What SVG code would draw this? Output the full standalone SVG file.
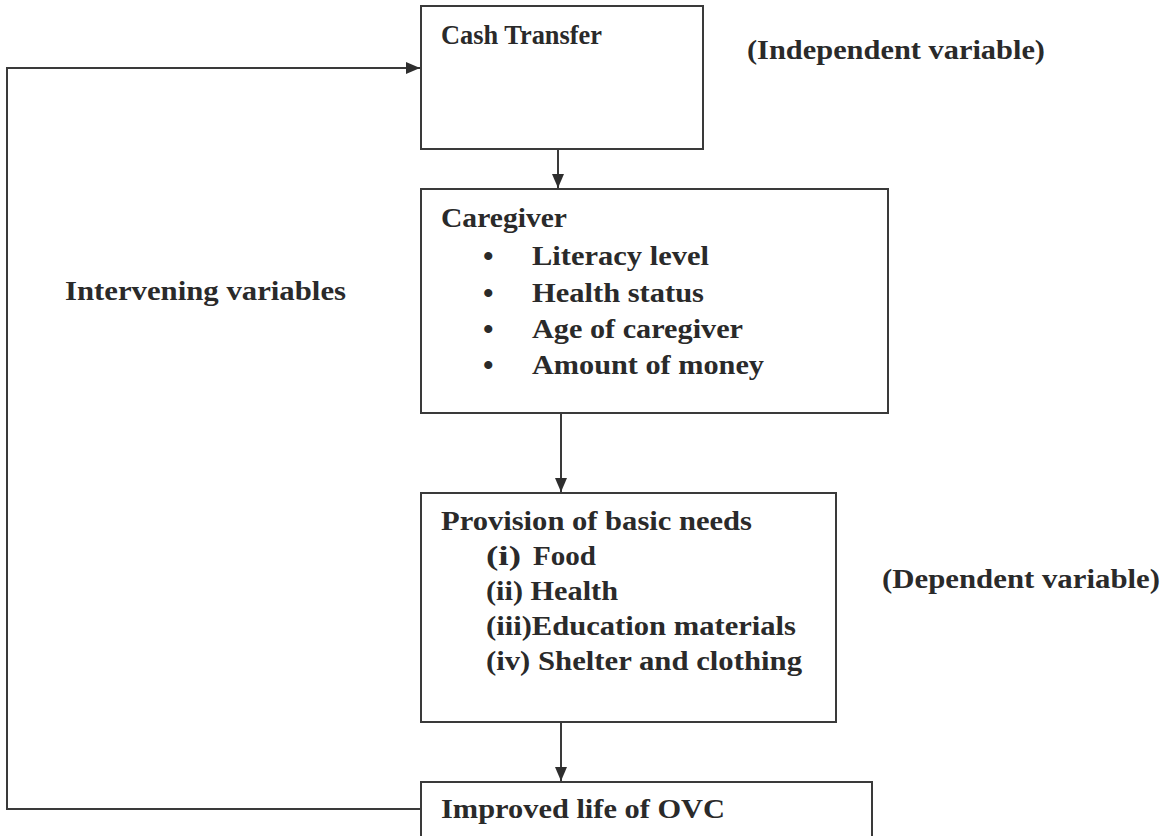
<svg xmlns="http://www.w3.org/2000/svg" width="1171" height="836" viewBox="0 0 1171 836">
<style>
.box{fill:#fff;stroke:#3a3a3a;stroke-width:2}
.ln{fill:none;stroke:#3a3a3a;stroke-width:2}
.t{font-family:"Liberation Serif","Times New Roman",serif;font-weight:bold;font-size:28px;fill:#2a2a2a}
.b{font-family:"Liberation Serif","Times New Roman",serif;font-weight:bold;font-size:30px;fill:#2a2a2a}
</style>
<defs>
<marker id="ah" markerUnits="userSpaceOnUse" markerWidth="14" markerHeight="14" refX="14" refY="7" orient="auto">
<path d="M0,1 L14,7 L0,13 Z" fill="#2e2e2e"/>
</marker>
</defs>
<rect width="1171" height="836" fill="#fff"/>
<g id="connectors">
<line class="ln" x1="558" y1="149" x2="558" y2="188" marker-end="url(#ah)"/>
<line class="ln" x1="561" y1="413" x2="561" y2="492" marker-end="url(#ah)"/>
<line class="ln" x1="561" y1="722" x2="561" y2="781" marker-end="url(#ah)"/>
<polyline class="ln" points="421,809 7,809 7,68 420,68" marker-end="url(#ah)"/>
</g>
<g id="cash-transfer">
<rect class="box" x="421" y="6" width="282" height="143"/>
<text class="t" x="441" y="44" textLength="161" lengthAdjust="spacingAndGlyphs">Cash Transfer</text>
</g>
<g id="independent-label">
<text class="t" x="747" y="59" textLength="298" lengthAdjust="spacingAndGlyphs">(Independent variable)</text>
</g>
<g id="caregiver">
<rect class="box" x="421" y="189" width="467" height="224"/>
<text class="t" x="441" y="227" textLength="126" lengthAdjust="spacingAndGlyphs">Caregiver</text>
<text class="b" x="483" y="266">•</text>
<text class="t" x="532" y="265" textLength="177" lengthAdjust="spacingAndGlyphs">Literacy level</text>
<text class="b" x="483" y="303">•</text>
<text class="t" x="532" y="302" textLength="172" lengthAdjust="spacingAndGlyphs">Health status</text>
<text class="b" x="483" y="339">•</text>
<text class="t" x="532" y="338" textLength="211" lengthAdjust="spacingAndGlyphs">Age of caregiver</text>
<text class="b" x="483" y="375">•</text>
<text class="t" x="532" y="374" textLength="232" lengthAdjust="spacingAndGlyphs">Amount of money</text>
</g>
<g id="intervening-label">
<text class="t" x="65" y="300" textLength="281" lengthAdjust="spacingAndGlyphs">Intervening variables</text>
</g>
<g id="provision">
<rect class="box" x="421" y="493" width="415" height="229"/>
<text class="t" x="441" y="530" textLength="311" lengthAdjust="spacingAndGlyphs">Provision of basic needs</text>
<text class="t" x="486" y="565" textLength="35" lengthAdjust="spacingAndGlyphs">(i)</text>
<text class="t" x="533" y="565" textLength="63" lengthAdjust="spacingAndGlyphs">Food</text>
<text class="t" x="486" y="600" textLength="132" lengthAdjust="spacingAndGlyphs">(ii) Health</text>
<text class="t" x="486" y="635" textLength="310" lengthAdjust="spacingAndGlyphs">(iii)Education materials</text>
<text class="t" x="486" y="670" textLength="316" lengthAdjust="spacingAndGlyphs">(iv) Shelter and clothing</text>
</g>
<g id="dependent-label">
<text class="t" x="882" y="588" textLength="278" lengthAdjust="spacingAndGlyphs">(Dependent variable)</text>
</g>
<g id="improved-life">
<rect class="box" x="421" y="782" width="451" height="70"/>
<text class="t" x="441" y="818" textLength="284" lengthAdjust="spacingAndGlyphs">Improved life of OVC</text>
</g>
</svg>
